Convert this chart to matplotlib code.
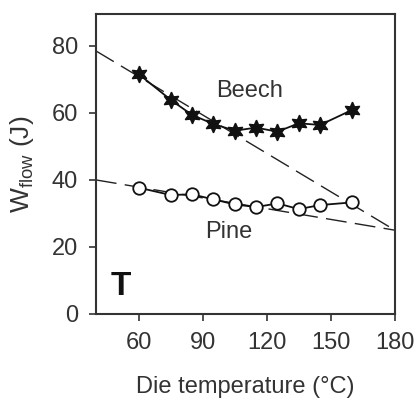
import numpy as np
import matplotlib
matplotlib.use('Agg')
import matplotlib.pyplot as plt

# Data
temperature = [60, 75, 85, 95, 105, 115, 125, 135, 145, 160]
beech = [71.6, 63.9, 59.4, 56.7, 54.7, 55.6, 54.4, 56.9, 56.4, 60.9]
beech_err = [1.0, 1.0, 0.8, 0.8, 0.8, 0.8, 1.0, 0.8, 0.8, 1.0]
pine = [37.7, 35.5, 35.7, 34.2, 32.7, 31.9, 33.0, 31.3, 32.5, 33.3]
pine_err = [1.0, 1.2, 1.0, 1.0, 0.8, 0.8, 0.8, 0.8, 0.8, 0.8]

# Dashed trend lines (value at each end of the x range)
trend_x = [40, 180]
beech_trend = [78.5, 25.0]
pine_trend = [40.0, 25.0]

plt.rcParams['font.family'] = ['Liberation Sans', 'DejaVu Sans']
txt = '#333333'

fig = plt.figure(figsize=(4.17, 4.01), dpi=100)
ax = fig.add_axes([0.230, 0.217, 0.717, 0.748])

ax.plot(trend_x, beech_trend, color='#222222', lw=1.0, ls=(0, (15, 6)))
ax.plot(trend_x, pine_trend, color='#222222', lw=1.0, ls=(0, (15, 6)))

ax.errorbar(temperature, beech, yerr=beech_err, color='#111111', lw=1.3,
            marker=(6, 1, 0), ms=12, mfc='#111111', mec='#111111', capsize=0)
ax.errorbar(temperature, pine, yerr=pine_err, color='#111111', lw=1.3,
            marker='o', ms=9, mfc='white', mec='#111111', mew=1.3, capsize=0)

ax.text(112, 66.5, 'Beech', fontsize=17, color=txt, ha='center', va='center')
ax.text(102, 24.5, 'Pine', fontsize=17, color=txt, ha='center', va='center')
ax.text(47, 8.2, 'T', fontsize=24, fontweight='bold', color='#111111', ha='left', va='center')

ax.set_xlim(40, 180)
ax.set_ylim(0, 89.5)
ax.set_xticks(range(60, 181, 30))
ax.set_yticks(range(0, 81, 20))
ax.tick_params(labelsize=17, colors=txt, length=5, width=1.2, direction='out', pad=8)
ax.set_xlabel('Die temperature (°C)', fontsize=17, color=txt, labelpad=16)
ax.set_ylabel('W$_{\\mathregular{flow}}$ (J)', fontsize=19, color=txt, labelpad=11)
for sp in ax.spines.values():
    sp.set_linewidth(1.5)
    sp.set_color('#333333')

fig.savefig('out.png', dpi=100)
